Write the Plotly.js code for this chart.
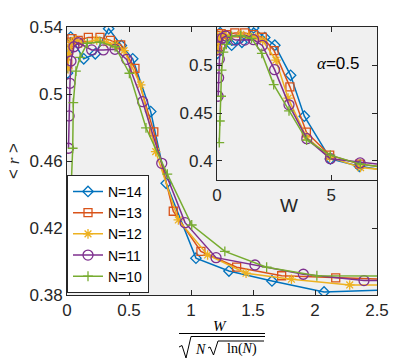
<!DOCTYPE html>
<html>
<head>
<meta charset="utf-8">
<script src="https://cdn.plot.ly/plotly-3.0.1.min.js"></script>
<style>
  html, body { margin: 0; padding: 0; background: #fff; }
  #chart { width: 415px; height: 361px; }
</style>
</head>
<body>
<div id="chart"></div>
<script>
// legend names, drawing order N=14 first, N=10 last (on top)
var seriesNames = ['N=14', 'N=13', 'N=12', 'N=11', 'N=10'];

// main plot x = W / sqrt(N sqrt(ln N)), inset x = W, y = <r> (shared)
var x14 = [0.004, 0.011, 0.03, 0.135, 0.228, 0.336, 0.438, 0.53, 0.675, 0.80, 1.04, 1.306, 1.653, 2.073, 2.62];
var w14 = [0.02, 0.05, 0.14, 0.64, 1.09, 1.6, 2.09, 2.53, 3.22, 3.82, 4.96, 6.23, 7.88, 9.89, 12.5];
var r14 = [0.5125, 0.526, 0.534, 0.521, 0.524, 0.539, 0.529, 0.521, 0.4895, 0.4467, 0.402, 0.3943, 0.3884, 0.3818, 0.3832];

var x13 = [0.006, 0.012, 0.022, 0.04, 0.09, 0.172, 0.266, 0.35, 0.433, 0.548, 0.70, 0.857, 1.08, 1.368, 1.731, 2.167, 2.74];
var w13 = [0.027, 0.055, 0.1, 0.18, 0.41, 0.78, 1.21, 1.6, 1.98, 2.5, 3.19, 3.91, 4.93, 6.24, 7.9, 9.89, 12.5];
var r13 = [0.518, 0.526, 0.531, 0.533, 0.532, 0.5338, 0.5338, 0.532, 0.5293, 0.5153, 0.4774, 0.430, 0.406, 0.3966, 0.3915, 0.3902, 0.389];

var x12 = [0.008, 0.014, 0.021, 0.035, 0.07, 0.118, 0.24, 0.32, 0.39, 0.46, 0.594, 0.715, 0.898, 1.134, 1.444, 1.81, 2.28, 2.87];
var w12 = [0.035, 0.06, 0.09, 0.15, 0.3, 0.51, 1.04, 1.39, 1.7, 2.0, 2.58, 3.11, 3.91, 4.93, 6.28, 7.87, 9.92, 12.5];
var r12 = [0.515, 0.524, 0.528, 0.531, 0.532, 0.5303, 0.5322, 0.5306, 0.5294, 0.5259, 0.5054, 0.4656, 0.4248, 0.4039, 0.393, 0.3894, 0.386, 0.386];

var x11 = [0.012, 0.017, 0.024, 0.032, 0.056, 0.091, 0.199, 0.293, 0.387, 0.481, 0.61, 0.764, 0.952, 1.202, 1.516, 1.906, 2.395, 3.03];
var w11 = [0.05, 0.07, 0.1, 0.13, 0.23, 0.38, 0.82, 1.21, 1.6, 1.98, 2.52, 3.15, 3.93, 4.96, 6.26, 7.87, 9.88, 12.5];
var r11 = [0.4676, 0.4869, 0.5064, 0.5197, 0.5282, 0.5306, 0.5263, 0.5263, 0.5267, 0.5207, 0.4954, 0.4586, 0.4232, 0.4023, 0.3979, 0.3924, 0.3886, 0.3888];

var x10 = [0.026, 0.032, 0.046, 0.051, 0.072, 0.105, 0.164, 0.267, 0.388, 0.503, 0.637, 0.809, 1.006, 1.273, 1.61, 2.015, 3.209];
var w10 = [0.10, 0.125, 0.18, 0.20, 0.28, 0.41, 0.64, 1.04, 1.51, 1.96, 2.48, 3.15, 3.92, 4.96, 6.27, 7.85, 12.5];
var r10 = [0.419, 0.4417, 0.4676, 0.4948, 0.5137, 0.5219, 0.5303, 0.531, 0.5282, 0.5124, 0.4798, 0.4522, 0.4218, 0.406, 0.3966, 0.3915, 0.391];

var mainTicksX = [0, 0.5, 1, 1.5, 2, 2.5];
var mainTicksY = [0.38, 0.42, 0.46, 0.5, 0.54];
var mainTickTextY = ['0.38', '0.42', '0.46', '0.5', '0.54'];
var insetTicksX = [0, 5];
var insetTicksY = [0.4, 0.45, 0.5];
var insetTickTextY = ['0.4', '0.45', '0.5'];

// MATLAB default colours and markers
var colors = ['#0072BD', '#D95319', '#EDB120', '#7E2F8E', '#77AC30'];
var symbols = ['diamond-open', 'square-open', 'asterisk-open', 'circle-open', 'cross-thin-open'];
var sizes = [8, 8, 8, 10, 7];

var mainX = [x14, x13, x12, x11, x10];
var insetX = [w14, w13, w12, w11, w10];
var ys = [r14, r13, r12, r11, r10];

var data = [];
for (var i = 0; i < seriesNames.length; i++) {
  var marker = { symbol: symbols[i], size: sizes[i], color: colors[i], line: { color: colors[i], width: 1.3 } };
  data.push({
    x: mainX[i], y: ys[i], type: 'scatter', mode: 'lines+markers',
    name: seriesNames[i], xaxis: 'x', yaxis: 'y',
    line: { color: colors[i], width: 1.5 }, marker: marker
  });
}
for (var j = 0; j < seriesNames.length; j++) {
  data.push({
    x: insetX[j], y: ys[j], type: 'scatter', mode: 'lines+markers',
    name: seriesNames[j], xaxis: 'x2', yaxis: 'y2', showlegend: false,
    line: { color: colors[j], width: 1.5 },
    marker: { symbol: symbols[j], size: sizes[j], color: colors[j], line: { color: colors[j], width: 1.3 } }
  });
}

// pixel -> paper helpers (plot area 67..377 x 27..295)
var ML = 67, MT = 27, PW = 310, PH = 268;
function px(x) { return (x - ML) / PW; }
function py(y) { return (MT + PH - y) / PH; }
function path(pts) {
  return pts.map(function (p, k) { return (k ? 'L' : 'M') + px(p[0]) + ',' + py(p[1]); }).join(' ');
}

var axisCommon = {
  showline: true, linecolor: '#262626', linewidth: 1, mirror: 'ticks',
  ticks: 'inside', ticklen: 5, tickcolor: '#262626', tickwidth: 1,
  showgrid: false, zeroline: false, fixedrange: true,
  tickfont: { size: 17, color: '#262626' }
};

var serif = 'Liberation Serif, DejaVu Serif, serif';

var layout = {
  width: 415, height: 361,
  margin: { l: ML, r: 415 - ML - PW, t: MT, b: 361 - MT - PH },
  paper_bgcolor: '#ffffff',
  plot_bgcolor: '#f0f0f0',
  font: { family: 'Liberation Sans, Arial, Helvetica, sans-serif', color: '#262626' },
  showlegend: true,
  legend: {
    x: 0, y: 0.008, xanchor: 'left', yanchor: 'bottom',
    bgcolor: '#ffffff', bordercolor: '#262626', borderwidth: 1,
    font: { size: 14, color: '#000000' }, itemwidth: 30, tracegroupgap: 0
  },
  xaxis: Object.assign({}, axisCommon, {
    domain: [0, 1], range: [0, 2.5], tickvals: mainTicksX, anchor: 'y'
  }),
  yaxis: Object.assign({}, axisCommon, {
    domain: [0, 1], range: [0.38, 0.54], tickvals: mainTicksY, ticktext: mainTickTextY, anchor: 'x'
  }),
  xaxis2: Object.assign({}, axisCommon, {
    domain: [px(217), 1], range: [0, 7], tickvals: insetTicksX, anchor: 'y2'
  }),
  yaxis2: Object.assign({}, axisCommon, {
    domain: [py(180), 1], range: [0.38, 0.54], tickvals: insetTicksY, ticktext: insetTickTextY, anchor: 'x2'
  }),
  shapes: [
    // white inset background
    { type: 'rect', xref: 'x2 domain', yref: 'y2 domain', x0: 0, x1: 1, y0: 0, y1: 1,
      fillcolor: '#ffffff', line: { width: 0 }, layer: 'below' },
    // fraction bar and radicals of the x label
    { type: 'line', xref: 'paper', yref: 'paper', x0: px(179), x1: px(265), y0: py(333.5), y1: py(333.5),
      line: { color: '#000', width: 1 } },
    { type: 'path', xref: 'paper', yref: 'paper',
      path: path([[179, 347], [182, 345.5], [186, 358], [191, 336.5], [265, 336.5]]),
      line: { color: '#000', width: 1 } },
    { type: 'path', xref: 'paper', yref: 'paper',
      path: path([[208, 348], [210, 347], [213.5, 355], [218, 341], [264, 341]]),
      line: { color: '#000', width: 1 } }
  ],
  annotations: [
    { text: '<i>W</i>', xref: 'paper', yref: 'paper', x: px(220), y: py(326), showarrow: false,
      xanchor: 'center', yanchor: 'middle', font: { family: serif, size: 15, color: '#000' } },
    { text: '<i>N</i>', xref: 'paper', yref: 'paper', x: px(200), y: py(349), showarrow: false,
      xanchor: 'center', yanchor: 'middle', font: { family: serif, size: 14, color: '#000' } },
    { text: 'ln(<i>N</i>)', xref: 'paper', yref: 'paper', x: px(242), y: py(349), showarrow: false,
      xanchor: 'center', yanchor: 'middle', font: { family: serif, size: 14, color: '#000' } },
    { text: '&lt; <span style="font-family:' + serif + '"><i>r</i></span> &gt;', xref: 'paper', yref: 'paper',
      x: px(13), y: py(161), showarrow: false, textangle: -90,
      xanchor: 'center', yanchor: 'middle', font: { size: 17, color: '#262626' } },
    { text: '<span style="font-family:' + serif + '"><i>α</i></span>=0.5', xref: 'paper', yref: 'paper',
      x: px(338), y: py(63), showarrow: false,
      xanchor: 'center', yanchor: 'middle', font: { size: 17, color: '#000' } },
    { text: 'W', xref: 'paper', yref: 'paper', x: px(289), y: py(205), showarrow: false,
      xanchor: 'center', yanchor: 'middle', font: { size: 19, color: '#262626' } }
  ]
};

Plotly.newPlot('chart', data, layout, { displayModeBar: false, staticPlot: true });
</script>
</body>
</html>
